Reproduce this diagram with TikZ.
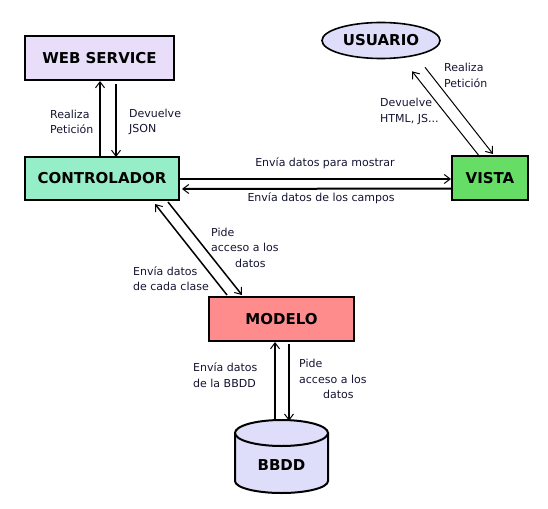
\documentclass[tikz,border=0pt]{standalone}
\usepackage{fontspec}
\setmainfont{DejaVu Sans}
\usetikzlibrary{arrows.meta,shapes.geometric}
\definecolor{wscol}{RGB}{232,222,250}
\definecolor{ctrlcol}{RGB}{150,238,200}
\definecolor{usercol}{RGB}{222,222,250}
\definecolor{vistacol}{RGB}{102,222,102}
\definecolor{modcol}{RGB}{255,140,140}
\definecolor{dbcol}{RGB}{222,222,250}
\definecolor{txtcol}{RGB}{20,20,50}
\tikzset{
  box/.style={draw=black, line width=2pt, inner sep=0pt, font=\fontsize{15}{17}\selectfont\bfseries},
  lbl/.style={inner sep=0pt, align=left, text=txtcol, font=\fontsize{11}{15.5}\selectfont},
  tip/.style={-{Straight Barb[length=6pt,width=9pt,line width=1pt]}},
  thk/.style={tip, line width=2pt},
  thn/.style={tip, line width=1pt},
  mid/.style={tip, line width=1.5pt}
}
\begin{document}
\begin{tikzpicture}[x=1pt,y=1pt]
\useasboundingbox (0,0) rectangle (548,-508);
% nodes
\node[box, fill=wscol, minimum width=149pt, minimum height=44pt] (ws) at (99.5,-58) {WEB SERVICE};
\node[box, fill=ctrlcol, minimum width=154pt, minimum height=43pt] (ctrl) at (102,-178.5) {CONTROLADOR};
\node[box, ellipse, fill=usercol, minimum width=118pt, minimum height=36pt, line width=1.6pt] (usuario) at (381,-40.5) {USUARIO};
\node[box, fill=vistacol, minimum width=76pt, minimum height=44pt] (vista) at (490,-178) {VISTA};
\node[box, fill=modcol, minimum width=145pt, minimum height=44pt] (modelo) at (281.5,-319) {MODELO};
% cylinder
\fill[dbcol] (235,-433) -- (235,-481) arc[start angle=180, end angle=360, x radius=46.5, y radius=12] -- (328,-433) arc[start angle=0, end angle=180, x radius=46.5, y radius=13] -- cycle;
\draw[line width=2pt] (235,-433) -- (235,-481) arc[start angle=180, end angle=360, x radius=46.5, y radius=12] -- (328,-433);
\draw[line width=2pt] (281.5,-433) ellipse[x radius=46.5, y radius=13];
\node[inner sep=0pt, minimum width=93pt, minimum height=90pt, font=\fontsize{15}{17}\selectfont\bfseries] (bbdd) at (281.5,-465) {BBDD};
% connectors
\draw[thk] ([xshift=-2pt]ctrl.north) -- ([xshift=0.5pt]ws.south);
\draw[mid] ([xshift=16.5pt,yshift=-3pt]ws.south) -- ([xshift=14pt,yshift=-1pt]ctrl.north);
\draw[thk] ([yshift=-0.5pt]ctrl.east) -- ([yshift=-1pt]vista.west);
\draw[thk] ([yshift=-10.5pt]vista.west) -- ([yshift=-10.5pt,xshift=2pt]ctrl.east);
\draw[thn] ([xshift=-10pt,yshift=-2pt]vista.north) -- ([shift={(31pt,-12pt)}]usuario.south);
\draw[thn] ([shift={(44pt,-8pt)}]usuario.south) -- ([xshift=3pt,yshift=1pt]vista.north);
\draw[mid] ([xshift=19pt,yshift=1pt]modelo.north west) -- ([shift={(53pt,-3pt)}]ctrl.south);
\draw[mid] ([shift={(66pt,-1pt)}]ctrl.south) -- ([xshift=34pt,yshift=1pt]modelo.north west);
\draw[thk] ([xshift=-6.5pt]bbdd.north) -- ([xshift=-6.5pt]modelo.south);
\draw[mid] ([xshift=7.5pt,yshift=-2pt]modelo.south) -- ([xshift=7.5pt,yshift=-1pt]bbdd.north);
% labels
\node[lbl, anchor=west] (l1) at (50,-122) {Realiza\\Petición};
\node[lbl, anchor=west] (l2) at (129,-122) {Devuelve\\JSON};
\node[lbl, anchor=west] (l3) at (444,-75.5) {Realiza\\Petición};
\node[lbl, anchor=west] (l4) at (380,-111.5) {Devuelve\\HTML, JS...};
\node[lbl] (l5) at (325,-163) {Envía datos para mostrar};
\node[lbl] (l6) at (321,-198) {Envía datos de los campos};
\node[lbl, anchor=west] (l7) at (211,-247.5) {Pide\\acceso a los\\\hspace*{24pt}datos};
\node[lbl, anchor=west] (l8) at (133,-278.5) {Envía datos\\de cada clase};
\node[lbl, anchor=west] (l9) at (193,-375) {Envía datos\\de la BBDD};
\node[lbl, anchor=west] (l10) at (299,-379) {Pide\\acceso a los\\\hspace*{24pt}datos};
\end{tikzpicture}
\end{document}
